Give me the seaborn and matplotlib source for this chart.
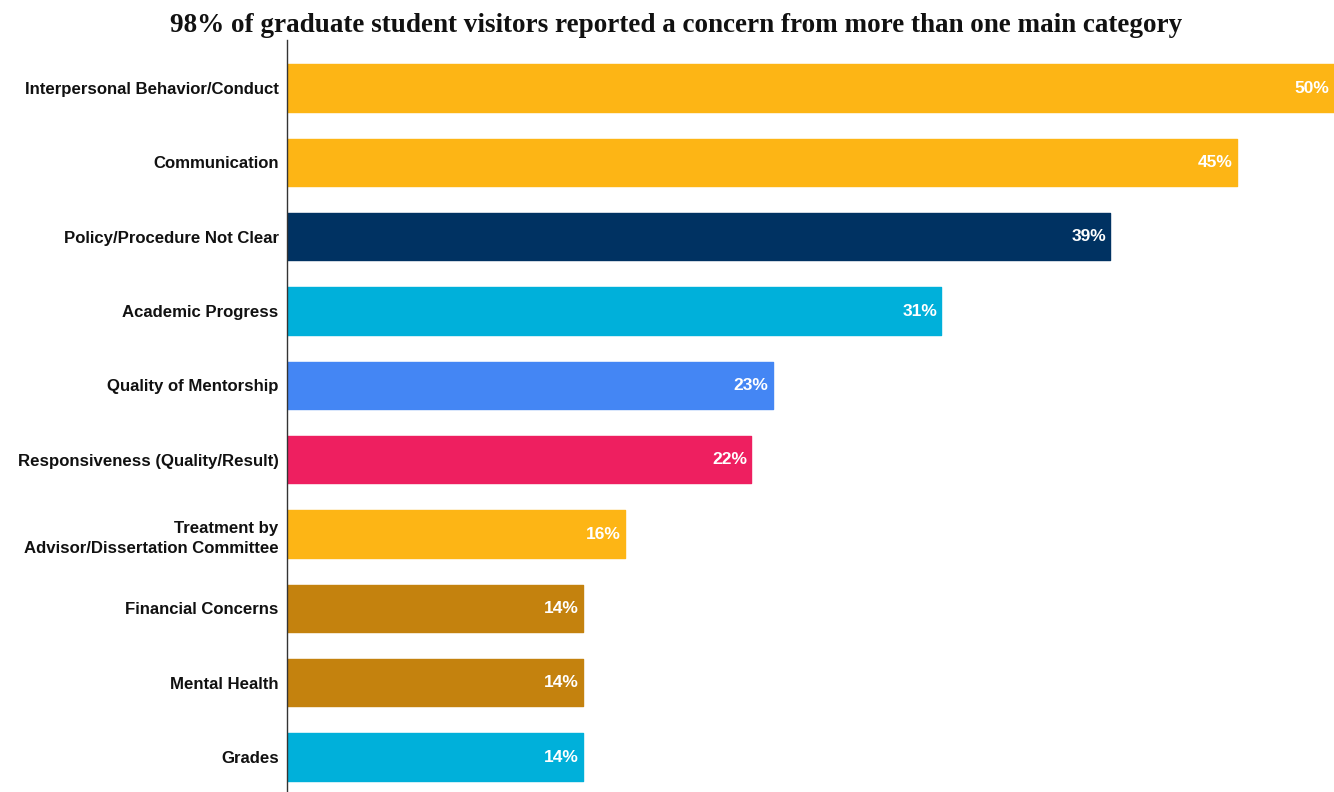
import matplotlib
matplotlib.use("Agg")
import matplotlib.pyplot as plt
import seaborn as sns
import pandas as pd

categories = [
    "Interpersonal Behavior/Conduct",
    "Communication",
    "Policy/Procedure Not Clear",
    "Academic Progress",
    "Quality of Mentorship",
    "Responsiveness (Quality/Result)",
    "Treatment by\nAdvisor/Dissertation Committee",
    "Financial Concerns",
    "Mental Health",
    "Grades",
]
percent = [50, 45, 39, 31, 23, 22, 16, 14, 14, 14]
bar_colors = [
    "#FDB515", "#FDB515", "#003262", "#00B0DA", "#4486F4",
    "#EE1F60", "#FDB515", "#C4820E", "#C4820E", "#00B0DA",
]
subtitle = "98% of graduate student visitors reported a concern from more than one main category"

sns.set_theme(style="white")
plt.rcParams["font.family"] = ["Liberation Sans", "DejaVu Sans"]

df = pd.DataFrame({"category": categories, "percent": percent})

fig = plt.figure(figsize=(13.34, 7.92), dpi=100)
ax = fig.add_axes([287 / 1334, 0.0, 1 - 287 / 1334, 1 - 40 / 792])

sns.barplot(
    data=df, x="percent", y="category", hue="category",
    palette=bar_colors, legend=False, width=0.635, ax=ax,
    orient="h", saturation=1,
)

for patch, col in zip(ax.patches, bar_colors):
    patch.set_edgecolor(col)
    patch.set_linewidth(1.0)
    patch.set_joinstyle("round")

x_max = 49.6
for i, v in enumerate(percent):
    # keep the value label inside the visible plotting area
    x_end = min(v, x_max)
    ax.text(x_end - 0.2, i, f"{v}%", ha="right", va="center", color="white",
            fontsize=12.5, fontweight="bold")

ax.set_xlim(0, x_max)
ax.set_ylim(9.47, -0.646)
ax.set_xlabel("")
ax.set_ylabel("")
ax.set_xticks([])
ax.tick_params(axis="y", length=0, pad=6)
for lbl in ax.get_yticklabels():
    lbl.set_fontweight("bold")
    lbl.set_fontsize(12.1)
    lbl.set_color("#111111")
    lbl.set_horizontalalignment("right")
    lbl.set_multialignment("right")
    lbl.set_linespacing(1.45)

for side in ["top", "right", "bottom"]:
    ax.spines[side].set_visible(False)
ax.spines["left"].set_color("#333333")
ax.spines["left"].set_linewidth(1.0)

fig.text(676 / 1334, 1 - 26 / 792, subtitle, ha="center", va="center",
         fontsize=19.5, fontweight="bold", family=["Liberation Serif", "DejaVu Serif"],
         color="#111111")

fig.savefig("out.png", dpi=100)
